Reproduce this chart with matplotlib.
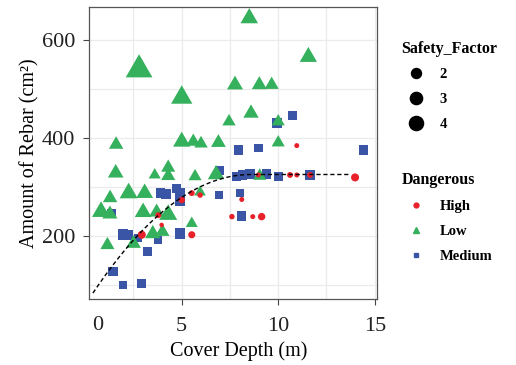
import numpy as np
import matplotlib
matplotlib.use("Agg")
import matplotlib.pyplot as plt
from matplotlib.lines import Line2D
from matplotlib.path import Path

plt.rcParams["font.family"] = ["Liberation Serif", "DejaVu Serif"]

# Dangerous = High
high_x = [10.96, 8.97, 10.61, 10.96, 11.65, 13.98, 8.11, 7.6, 8.68, 9.14,
          2.93, 3.79, 3.96, 5.0, 5.52, 5.95, 5.52]
high_y = [384, 324, 324, 324, 324, 319, 274, 239, 239, 239,
          202, 242, 222, 273, 287, 283, 202]
high_sf = [0.5, 0.5, 0.7, 0.5, 0.7, 1.3, 0.5, 0.6, 0.5, 1.1,
           1.3, 0.7, 0.4, 0.85, 0.7, 0.6, 1.0]

# Dangerous = Low
low_x = [8.5, 2.79, 5.0, 7.76, 9.02, 9.66, 11.56, 7.45, 1.6, 5.0,
         5.6, 6.0, 6.9, 8.59, 10.0, 10.0, 1.58, 3.6, 4.3, 4.3,
         5.69, 6.78, 1.29, 2.25, 3.08, 0.82, 1.28, 3.0, 3.7, 4.3,
         1.15, 2.5, 3.5, 4.0, 5.52, 5.95, 9.04]
low_y = [644, 539, 482, 508, 508, 508, 565, 433, 386, 392,
         392, 388, 390, 450, 433, 390, 328, 324, 339, 322,
         321, 325, 277, 287, 287, 249, 244, 248, 248, 243,
         181, 184, 204, 208, 225, 289, 322]
low_sf = [3.4, 7.9, 5.0, 2.8, 2.5, 2.2, 3.3, 1.95, 2.3, 3.3,
          2.2, 2.0, 2.4, 2.6, 1.9, 1.9, 2.7, 1.6, 2.2, 2.2,
          1.9, 3.0, 2.3, 3.6, 3.1, 3.6, 2.5, 3.1, 2.5, 3.6,
          2.2, 2.4, 2.6, 2.2, 1.6, 1.5, 1.95]

# Dangerous = Medium
med_x = [10.75, 9.92, 7.93, 8.97, 14.4, 8.15, 8.55, 9.4, 10.0, 11.65,
         8.02, 8.11, 3.9, 4.2, 4.91, 4.91, 6.93, 7.85, 4.91, 1.37,
         1.96, 2.22, 2.74, 3.25, 3.77, 1.44, 1.96, 2.91, 6.95, 4.74]
med_y = [445, 431, 375, 379, 375, 324, 326, 326, 321, 324,
         288, 240, 287, 286, 287, 270, 283, 321, 205, 246,
         202, 202, 195, 168, 191, 127, 100, 103, 333, 296]
med_sf = [2.1, 2.5, 2.2, 1.95, 2.2, 2.3, 2.3, 2.3, 2.2, 2.2,
          1.6, 2.2, 2.5, 2.5, 2.5, 2.2, 1.6, 2.2, 3.0, 2.1,
          3.0, 2.5, 1.6, 2.1, 1.6, 2.1, 1.8, 2.1, 2.0, 2.0]

# plateau fit
fit_start, fit_end = 0.4, 13.7
fit_join, fit_plateau, fit_k = 8.6, 325, 3.6

sf_breaks = [2, 3, 4]
colors = {"High": "#e8202a", "Low": "#35b05c", "Medium": "#3a55a5"}

tri = Path([(0, 1), (-0.866, -0.5), (0.866, -0.5), (0, 1)],
           [Path.MOVETO, Path.LINETO, Path.LINETO, Path.CLOSEPOLY])


def diam_pt(sf):
    # circle diameter, area proportional to safety factor
    return 7.07 * np.sqrt(np.asarray(sf)) * 0.72


fig = plt.figure(figsize=(5.16, 3.65), dpi=100)
ax = fig.add_axes([0.173, 0.181, 0.557, 0.800])

ax.scatter(med_x, med_y, marker="s", s=(0.886 * diam_pt(med_sf)) ** 2,
           c=colors["Medium"], linewidths=0, zorder=3)
ax.scatter(low_x, low_y, marker=tri, s=(1.555 * diam_pt(low_sf)) ** 2,
           c=colors["Low"], linewidths=0, zorder=3)
ax.scatter(high_x, high_y, marker="o", s=diam_pt(high_sf) ** 2,
           c=colors["High"], linewidths=0, zorder=3)

xs = np.linspace(fit_start, fit_end, 200)
ys = np.where(xs < fit_join, fit_plateau - fit_k * (xs - fit_join) ** 2, fit_plateau)
ax.plot(xs, ys, color="black", lw=1.0, ls=(0, (3, 2)), zorder=4)

ax.set_xlim(0.21, 15.1)
ax.set_ylim(71, 667)
ax.set_xticks([5, 10, 15])
ax.set_xticks([2.5, 7.5, 12.5], minor=True)
ax.set_yticks([200, 400, 600])
ax.set_yticks([100, 300, 500], minor=True)
ax.grid(True, which="both", color="#ebebeb", lw=0.9)
ax.set_axisbelow(True)
ax.tick_params(which="minor", length=0)
ax.tick_params(which="major", length=4, color="#444444", labelsize=16,
               labelcolor="#222222")
ax.tick_params(axis="x", pad=9)
ax.tick_params(axis="y", pad=6)
for sp in ax.spines.values():
    sp.set_color("#555555")
    sp.set_linewidth(0.9)
ax.text(0.65, -0.058, "0", transform=ax.get_xaxis_transform(), ha="center",
        va="top", fontsize=16, color="#222222")

ax.set_xlabel("Cover Depth (m)", fontsize=14.5)
ax.xaxis.set_label_coords(0.52, -0.145)
ax.set_ylabel("Amount of Rebar (cm²)", fontsize=14.5, labelpad=2)

size_handles = [Line2D([], [], ls="", marker="o", color="black",
                       markersize=diam_pt(v)) for v in sf_breaks]
leg1 = fig.legend(size_handles, [str(v) for v in sf_breaks], title="Safety_Factor",
                  loc="upper left", bbox_to_anchor=(0.767, 0.905), frameon=False,
                  alignment="left", prop={"weight": "bold", "size": 10.5},
                  title_fontproperties={"weight": "bold", "size": 11.5},
                  handletextpad=0.6, labelspacing=0.8, borderaxespad=0)

cat_handles = [
    Line2D([], [], ls="", marker="o", color=colors["High"], markersize=3.5),
    Line2D([], [], ls="", marker="^", color=colors["Low"], markersize=4.5),
    Line2D([], [], ls="", marker="s", color=colors["Medium"], markersize=3.5),
]
leg2 = fig.legend(cat_handles, ["High", "Low", "Medium"], title="Dangerous",
                  loc="upper left", bbox_to_anchor=(0.767, 0.545), frameon=False,
                  alignment="left", prop={"weight": "bold", "size": 10.5},
                  title_fontproperties={"weight": "bold", "size": 11.5},
                  handletextpad=0.6, labelspacing=0.82, borderaxespad=0)

fig.savefig("out.png", dpi=100)
